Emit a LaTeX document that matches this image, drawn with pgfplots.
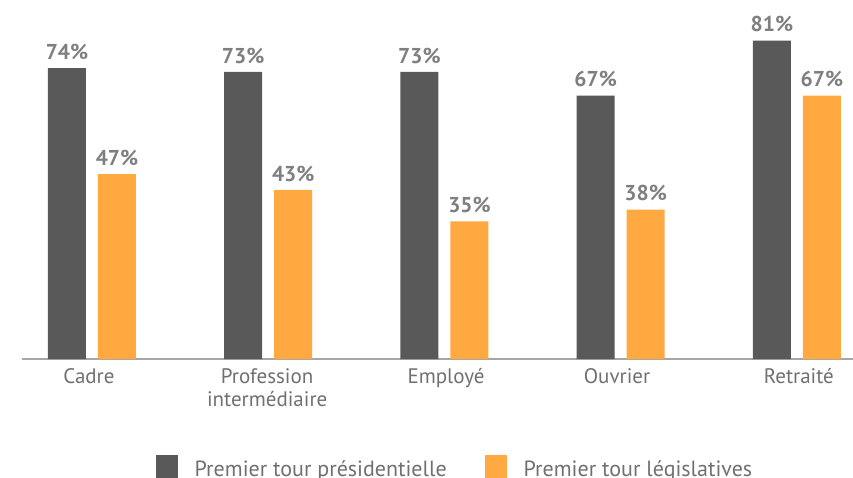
\documentclass[border=0pt]{standalone}
\usepackage{pgfplots}
\pgfplotsset{compat=1.18}
\usepackage{fontspec}
\setmainfont{PT Sans}
\definecolor{darkbar}{HTML}{595959}
\definecolor{orangebar}{HTML}{FFA940}
\definecolor{labgray}{HTML}{7F7F7F}
\definecolor{txtgray}{HTML}{707070}
\definecolor{axisgray}{HTML}{A6A6A6}

\begin{document}
\begin{tikzpicture}
\path[use as bounding box] (0,0) rectangle (853pt,477pt);
\begin{axis}[
  at={(22pt,118pt)}, anchor=south west,
  scale only axis, width=831pt, height=359pt,
  xmin=-0.397, xmax=4.318, ymin=0, ymax=91.3,
  ybar=12pt, bar width=38pt,
  axis x line=bottom, axis y line=none,
  x axis line style={axisgray, line width=1.2pt, -},
  xtick={-0.017,0.994,2.009,2.979,4.011},
  xticklabels={Cadre,{Profession\\intermédiaire},Employé,Ouvrier,Retraité},
  major tick length=0pt,
  xticklabel style={align=center, yshift=-6pt, font=\fontsize{21}{23.5}\selectfont, text=txtgray},
  ytick=\empty,
  /pgf/number format/assume math mode=true,
  nodes near coords={\pgfmathprintnumber{\pgfplotspointmeta}\%},
  nodes near coords style={font=\fontsize{21.5}{24}\selectfont\bfseries, text=labgray, yshift=5pt},
  legend columns=2,
  legend style={draw=none, fill=none, at={(axis description cs:0.521,-0.262)}, anchor=north,
    font=\fontsize{22}{25}\selectfont, text=txtgray,
    /tikz/every even column/.append style={column sep=36pt}},
  legend image code/.code={\fill[#1,draw=none] (0pt,-9pt) rectangle (22pt,14pt);
    \path[draw=none,fill=none] (37pt,0pt) circle[radius=0pt];},
]
\addplot[fill=darkbar, draw=none] coordinates {(0,74) (1,73) (2,73) (3,67) (4,81)};
\addplot[fill=orangebar, draw=none] coordinates {(0,47) (1,43) (2,35) (3,38) (4,67)};
\legend{Premier tour présidentielle, Premier tour législatives}
\end{axis}
\end{tikzpicture}
\end{document}
